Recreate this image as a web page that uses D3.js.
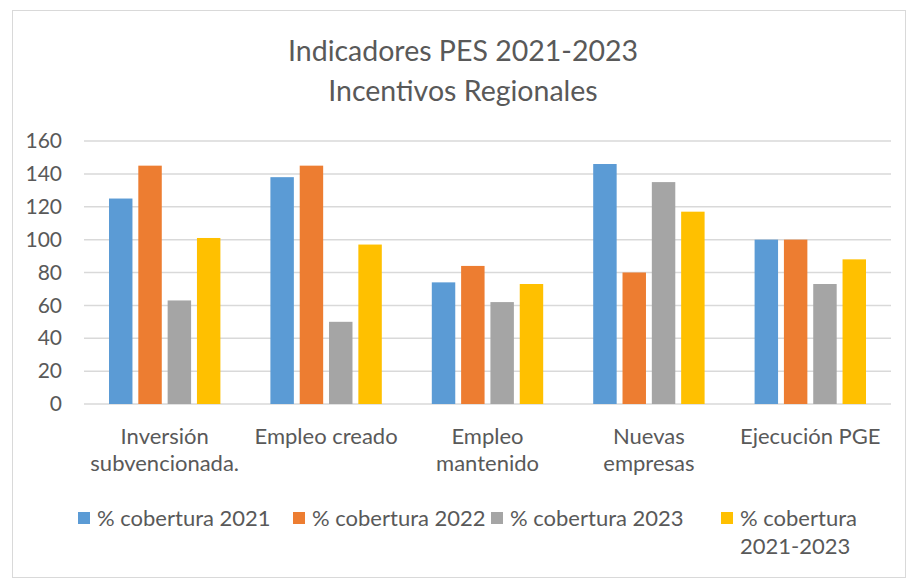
<!DOCTYPE html>
<html>
<head>
<meta charset="utf-8">
<script src="https://cdn.jsdelivr.net/npm/d3@7"></script>
<style>
  body { margin: 0; background: #fff; }
  text { font-family: Lato, "Open Sans", sans-serif; fill: #595959; }
</style>
</head>
<body>
<svg id="grafico"></svg>
<script>
const WIDTH = 907,
    HEIGHT = 579;

const margin = { top: 141, bottom: 175, left: 84, right: 16 };

const categorias = [
    ["Inversión", "subvencionada."],
    ["Empleo creado"],
    ["Empleo", "mantenido"],
    ["Nuevas", "empresas"],
    ["Ejecución PGE"]
];
const series = ["% cobertura 2021", "% cobertura 2022", "% cobertura 2023", "% cobertura 2021-2023"];
const cobertura2021 = [125, 138, 74, 146, 100];
const cobertura2022 = [145, 145, 84, 80, 100];
const cobertura2023 = [63, 50, 62, 135, 73];
const cobertura2123 = [101, 97, 73, 117, 88];
const ticksY = [0, 20, 40, 60, 80, 100, 120, 140, 160];
const colores = ["#5B9BD5", "#ED7D31", "#A5A5A5", "#FFC000"];

const valores = [cobertura2021, cobertura2022, cobertura2023, cobertura2123];

const svg = d3.select("#grafico")
    .attr("width", WIDTH)
    .attr("height", HEIGHT);

// marco
svg.append("rect")
    .attr("x", 12.5).attr("y", 10.5)
    .attr("width", 893).attr("height", 567)
    .attr("fill", "white")
    .attr("stroke", "#d9d9d9");

// titulo
const titulo = svg.append("text")
    .attr("text-anchor", "middle")
    .attr("font-size", 28.5);
titulo.append("tspan").attr("x", 463).attr("y", 61).text("Indicadores PES 2021-2023");
titulo.append("tspan").attr("x", 463).attr("y", 101).text("Incentivos Regionales");

const ancho = WIDTH - margin.left - margin.right;
const alto = HEIGHT - margin.top - margin.bottom;

const escalaX = d3.scaleBand()
    .domain(d3.range(categorias.length))
    .range([0, ancho]);

const escalaSerie = d3.scaleBand()
    .domain(d3.range(series.length))
    .range([25, escalaX.bandwidth() - 25])
    .paddingInner(0.2);

const escalaY = d3.scaleLinear()
    .domain([0, 160])
    .range([alto, 0]);

const g = svg.append("g")
    .attr("transform", `translate(${margin.left} ${margin.top})`);

// cuadricula
g.append("g")
    .selectAll("line")
    .data(ticksY)
    .join("line")
    .attr("x1", 0).attr("x2", ancho)
    .attr("y1", d => escalaY(d)).attr("y2", d => escalaY(d))
    .attr("stroke", "#d9d9d9")
    .attr("stroke-width", 1.5);

// eje Y
const ejeY = d3.axisLeft(escalaY).tickValues(ticksY).tickSize(0).tickPadding(22);
g.append("g")
    .call(ejeY)
    .call(s => s.select(".domain").remove())
    .selectAll("text")
    .attr("font-size", 21)
    .attr("fill", "#595959")
    .attr("font-family", "Lato, sans-serif");

// barras
const grupos = g.append("g")
    .selectAll("g")
    .data(categorias.map((c, i) => i))
    .join("g")
    .attr("transform", i => `translate(${escalaX(i)} 0)`);

grupos.selectAll("rect")
    .data(i => valores.map((serie, j) => ({ serie: j, valor: serie[i] })))
    .join("rect")
    .attr("x", d => escalaSerie(d.serie))
    .attr("width", escalaSerie.bandwidth())
    .attr("y", d => escalaY(d.valor))
    .attr("height", d => alto - escalaY(d.valor))
    .attr("fill", d => colores[d.serie]);

// etiquetas categorias
const etiquetas = g.append("g")
    .selectAll("text")
    .data(categorias)
    .join("text")
    .attr("text-anchor", "middle")
    .attr("font-size", 22)
    .attr("transform", (d, i) => `translate(${escalaX(i) + escalaX.bandwidth() / 2} ${alto + 40})`);

etiquetas.selectAll("tspan")
    .data(d => d)
    .join("tspan")
    .attr("x", 0)
    .attr("dy", (d, i) => i === 0 ? 0 : 27)
    .text(d => d);

// leyenda
const posLeyenda = [78, 293, 491, 721];
const leyenda = svg.append("g")
    .selectAll("g")
    .data(series)
    .join("g")
    .attr("transform", (d, i) => `translate(${posLeyenda[i]} 512)`);

leyenda.append("rect")
    .attr("width", 12).attr("height", 12)
    .attr("fill", (d, i) => colores[i]);

leyenda.append("text")
    .attr("x", 19)
    .attr("y", 14)
    .attr("font-size", 22)
    .each(function (d, i) {
        const t = d3.select(this);
        if (i === 3) {
            t.append("tspan").attr("x", 19).text("% cobertura");
            t.append("tspan").attr("x", 19).attr("dy", 28).text("2021-2023");
        } else {
            t.text(d);
        }
    });
</script>
</body>
</html>
